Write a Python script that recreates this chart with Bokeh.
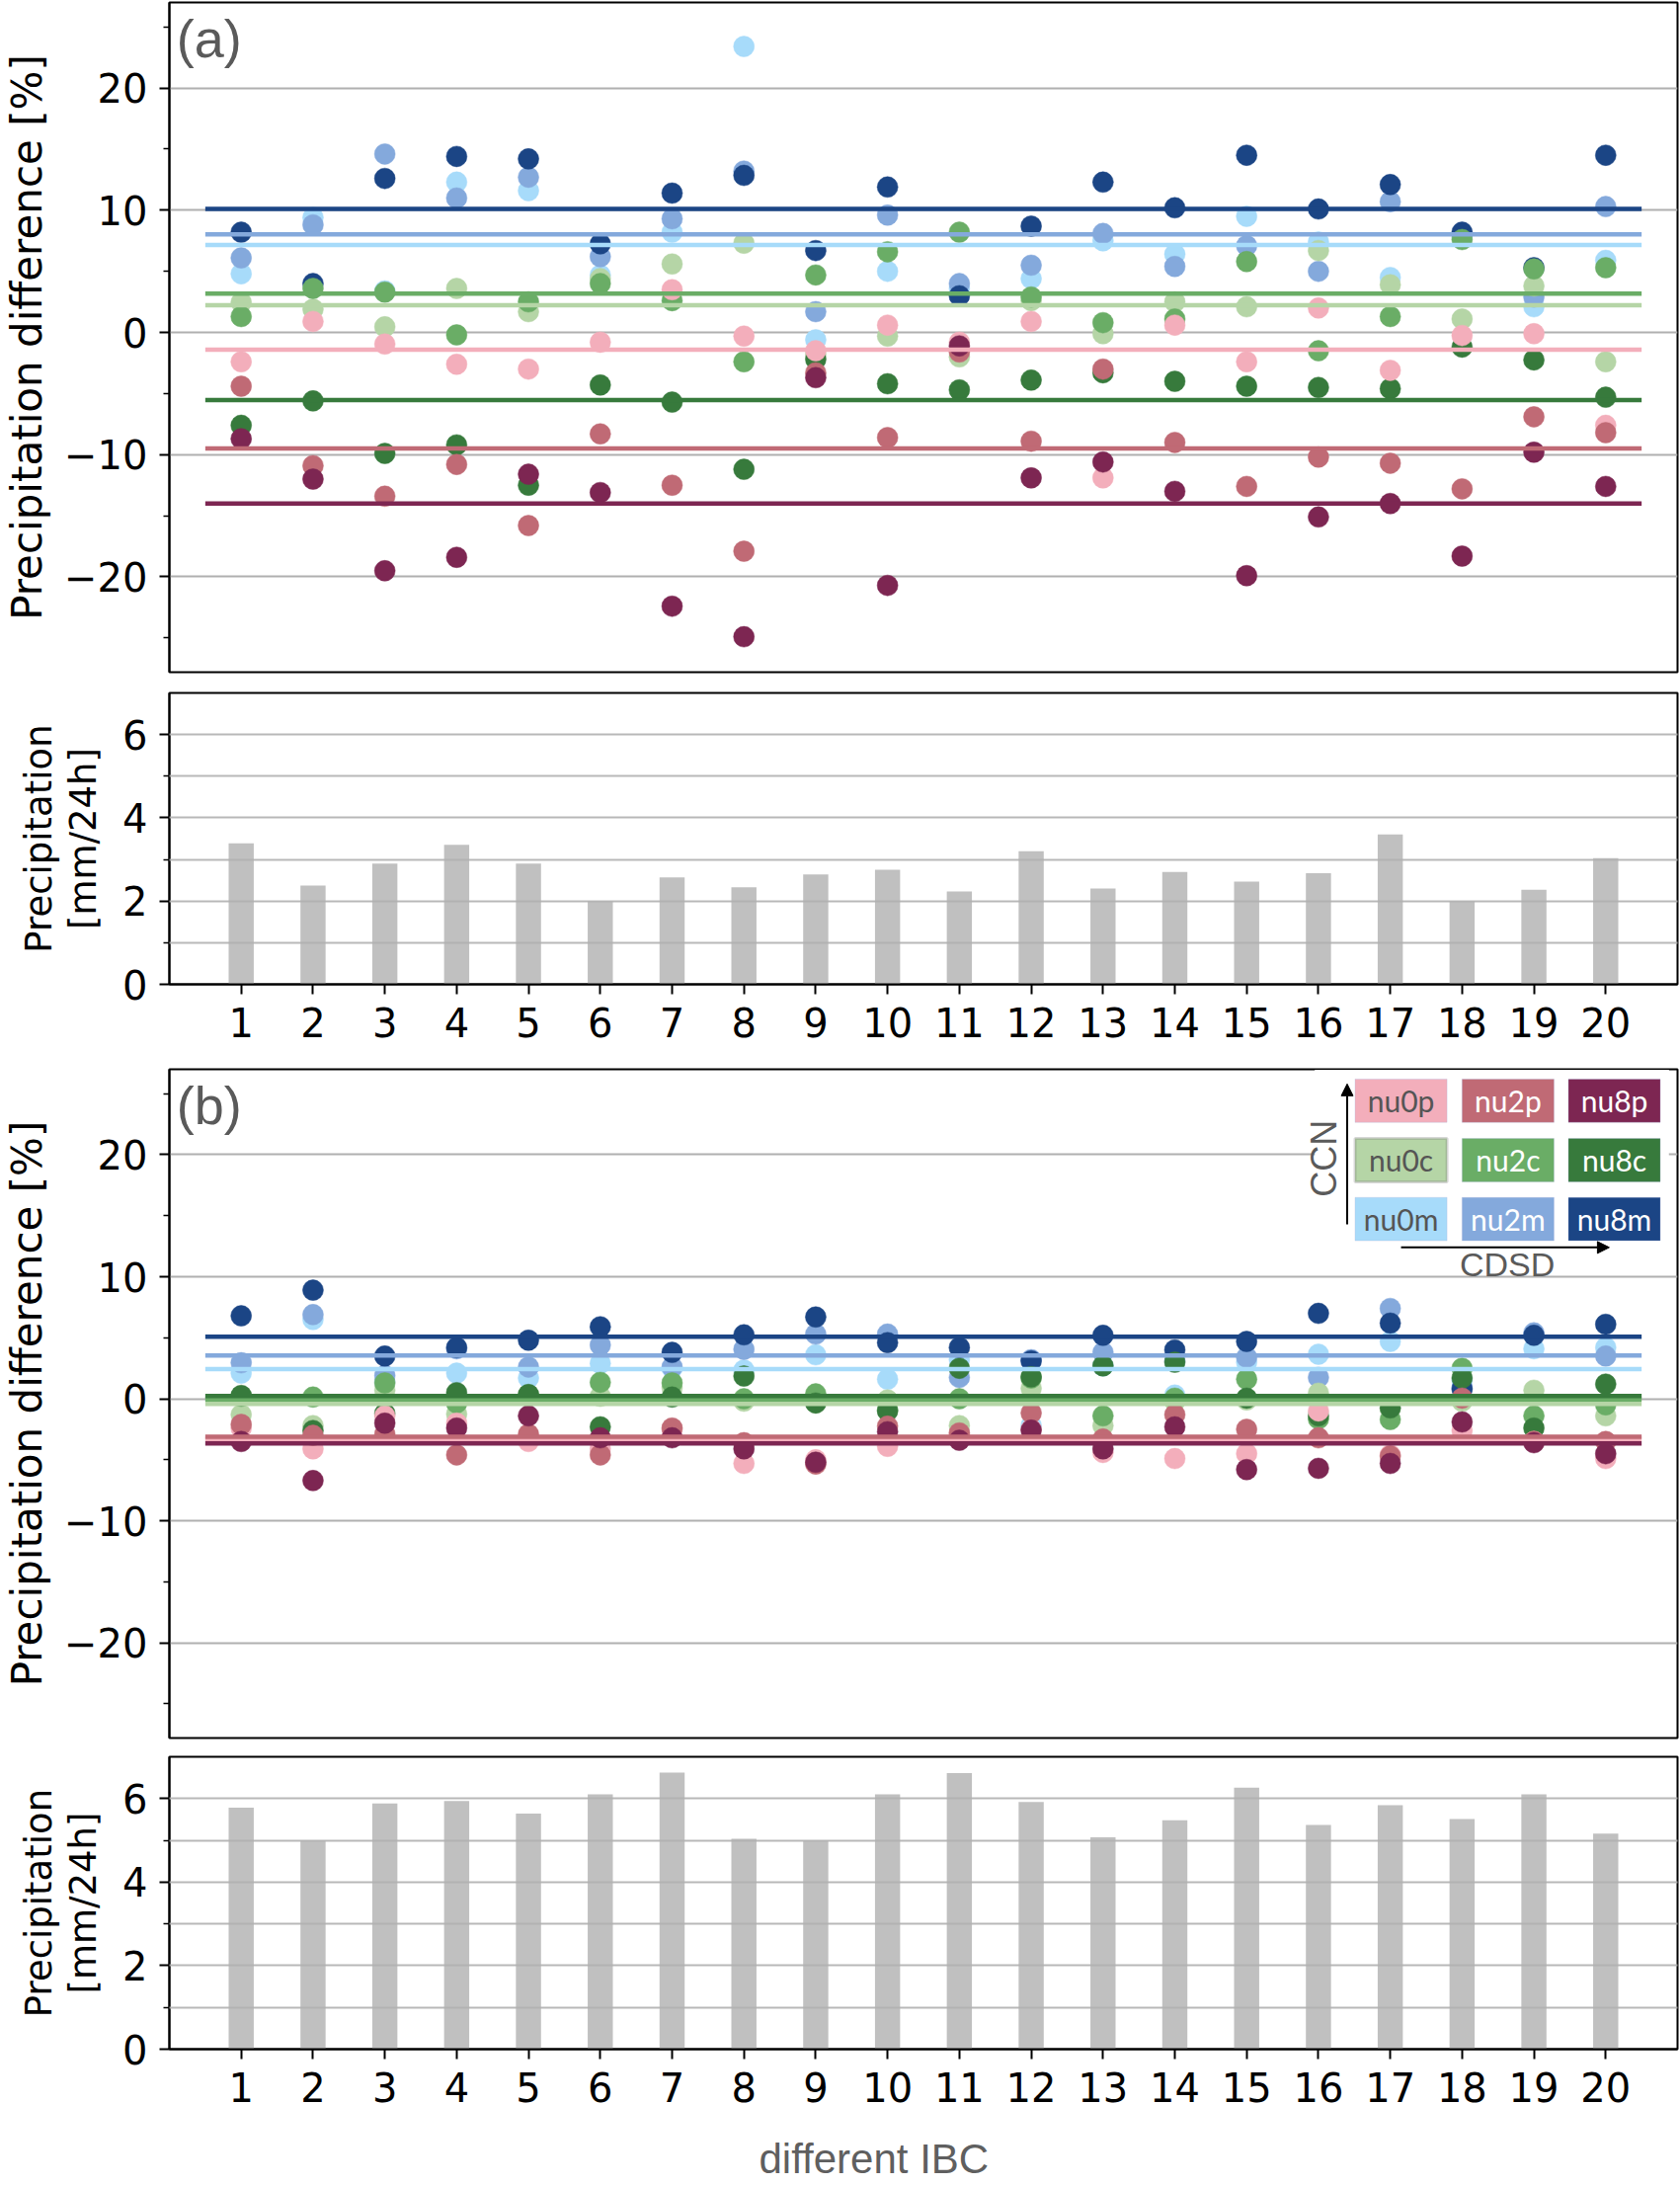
from bokeh.plotting import figure
from bokeh.layouts import column
from bokeh.models import FixedTicker, Label, Arrow, NormalHead, Range1d, BoxAnnotation
from bokeh.embed import file_html
from bokeh.resources import INLINE

# ---------------- data ----------------
ibc = list(range(1, 21))
ibc_labels = [str(i) for i in ibc]

# panel (a): precipitation difference [%]
a_nu0m = [4.8, 9.4, 3.4, 12.3, 11.6, 4.7, 8.2, 23.4, -0.6, 5.0, 3.6, 4.4, 7.5, 6.4, 9.5, 7.4, 4.5, 7.8, 2.1, 5.9]
a_nu2m = [6.1, 8.8, 14.6, 11.0, 12.7, 6.2, 9.3, 13.2, 1.7, 9.6, 4.0, 5.5, 8.1, 5.4, 7.1, 5.0, 10.7, 8.0, 2.9, 10.3]
a_nu8m = [8.2, 4.0, 12.6, 14.4, 14.2, 7.25, 11.4, 12.85, 6.7, 11.9, 3.0, 8.7, 12.3, 10.2, 14.5, 10.1, 12.1, 8.2, 5.3, 14.5]
a_nu0c = [2.46, 1.9, 0.46, 3.6, 1.7, 4.4, 5.6, 7.3, -1.8, -0.3, -2.0, 2.6, -0.1, 2.5, 2.1, 6.7, 3.9, 1.1, 3.8, -2.4]
a_nu2c = [1.3, 3.6, 3.3, -0.2, 2.5, 4.0, 2.6, -2.4, 4.7, 6.6, 8.2, 2.9, 0.8, 1.1, 5.8, -1.5, 1.3, 7.6, 5.2, 5.3]
a_nu8c = [-7.6, -5.6, -9.9, -9.2, -12.5, -4.3, -5.7, -11.2, -2.2, -4.2, -4.7, -3.9, -3.3, -4.0, -4.4, -4.5, -4.6, -1.2, -2.25, -5.3]
a_nu0p = [-2.4, 0.9, -0.95, -2.6, -3.0, -0.8, 3.5, -0.3, -1.5, 0.6, -0.8, 0.9, -11.9, 0.6, -2.4, 2.0, -3.1, -0.25, -0.1, -7.6]
a_nu2p = [-4.4, -10.9, -13.4, -10.8, -15.8, -8.3, -12.5, -17.9, -3.3, -8.6, -1.6, -8.9, -3.0, -9.0, -12.6, -10.2, -10.7, -12.8, -6.9, -8.2]
a_nu8p = [-8.7, -12.0, -19.5, -18.4, -11.6, -13.1, -22.4, -24.9, -3.7, -20.7, -1.1, -11.9, -10.6, -13.0, -19.9, -15.1, -14.0, -18.3, -9.8, -12.6]
a_means = [7.15, 8.03, 10.1, 2.22, 3.17, -5.53, -1.41, -9.5, -14.0]   # same order as names

# panel (b)
b_nu0m = [2.1, 6.5, 1.4, 2.1, 1.7, 2.9, 2.5, 2.35, 3.6, 1.6, 3.2, -2.2, 2.7, 0.3, 3.0, 3.65, 4.7, 1.5, 4.1, 4.2]
b_nu2m = [2.95, 6.9, 1.9, 4.1, 2.6, 4.4, 2.6, 4.05, 5.3, 5.3, 1.75, 3.2, 3.8, 3.1, 3.4, 1.75, 7.4, 0.9, 5.4, 3.5]
b_nu8m = [6.8, 8.9, 3.5, 4.2, 4.8, 5.9, 3.8, 5.24, 6.7, 4.6, 4.2, 3.1, 5.2, 4.0, 4.7, 7.0, 6.2, 0.8, 5.2, 6.1]
b_nu0c = [-1.3, -2.2, 0.7, -1.25, 0.2, 0.2, 0.9, -0.2, -0.3, -0.1, -2.2, 0.86, -2.2, -0.2, -0.1, 0.46, -0.8, -0.2, 0.7, -1.4]
b_nu2c = [0.2, 0.14, 1.3, -0.35, 0.3, 1.35, 1.3, 0.0, 0.4, -0.9, 0.0, 1.7, -1.4, 0.05, 1.6, -1.65, -1.7, 2.5, -1.4, -0.5]
b_nu8c = [0.27, -2.6, -1.2, 0.5, 0.35, -2.3, 0.14, 1.86, -0.35, -1.0, 2.5, 1.8, 2.7, 3.0, 0.05, -1.4, -0.75, 1.7, -2.4, 1.2]
b_nu0p = [-2.4, -4.1, -1.4, -2.0, -3.5, -4.1, -2.5, -5.3, -5.0, -3.9, -2.9, -2.5, -4.4, -4.9, -4.5, -1.0, -4.6, -2.6, -3.5, -4.9]
b_nu2p = [-2.1, -3.0, -2.9, -4.6, -2.9, -4.6, -2.4, -3.6, -5.35, -2.25, -2.8, -1.16, -3.3, -1.3, -2.5, -3.2, -4.7, 0.05, -3.5, -3.5]
b_nu8p = [-3.5, -6.7, -2.0, -2.4, -1.4, -3.2, -3.2, -4.1, -5.2, -2.7, -3.4, -2.57, -4.1, -2.3, -5.8, -5.7, -5.3, -1.9, -3.6, -4.5]
b_means = [2.43, 3.54, 5.08, -0.43, -0.05, 0.22, -3.3, -3.12, -3.65]

# precipitation [mm/24h]
bars_a = [3.39, 2.37, 2.90, 3.35, 2.90, 2.0, 2.57, 2.33, 2.64, 2.75, 2.23, 3.2, 2.3, 2.7, 2.47, 2.67, 3.6, 2.0, 2.27, 3.03]
bars_b = [5.78, 4.99, 5.88, 5.94, 5.64, 6.1, 6.62, 5.04, 4.99, 6.1, 6.61, 5.92, 5.07, 5.48, 6.26, 5.37, 5.84, 5.51, 6.1, 5.16]

names = ["nu0m", "nu2m", "nu8m", "nu0c", "nu2c", "nu8c", "nu0p", "nu2p", "nu8p"]
pct_ticks = [-20, -10, 0, 10, 20]
pct_minor = [-25, -15, -5, 5, 15, 25]
mm_ticks = [0, 2, 4, 6]
mm_minor = [1, 3, 5]

# ---------------- style ----------------
colors = {
    "nu0p": "#f3aebb", "nu2p": "#c06a75", "nu8p": "#7d2652",
    "nu0c": "#b5d5a6", "nu2c": "#6aad66", "nu8c": "#377a3c",
    "nu0m": "#a7dbfa", "nu2m": "#84a9dc", "nu8m": "#1b4585",
}
W = 1701
LB = 167
RB = 3
TICK_FONT = "DejaVu Sans"
GRID = "#b0b0b0"


def style_common(p):
    p.outline_line_color = "black"
    p.outline_line_width = 2
    p.outline_line_alpha = 1
    p.background_fill_color = "white"
    p.border_fill_color = "white"
    for ax in p.yaxis:
        ax.major_label_text_font = TICK_FONT
        ax.major_label_text_font_size = "40px"
        ax.major_label_text_color = "black"
        ax.major_tick_out = 10
        ax.major_tick_in = 0
        ax.minor_tick_out = 6
        ax.minor_tick_in = 0
        ax.axis_line_width = 2
        ax.major_tick_line_width = 2
        ax.minor_tick_line_width = 1.5
        ax.major_label_standoff = 12
        ax.axis_label_text_font = TICK_FONT
        ax.axis_label_text_font_style = "normal"
        ax.axis_label_text_color = "black"


def scatter_panel(series, means, tag, height, top, bottom):
    p = figure(width=W, height=height, x_range=Range1d(0, 21), y_range=Range1d(-27.8, 27.0),
               output_backend="svg", toolbar_location=None, x_axis_location=None,
               min_border_left=LB, min_border_right=RB, min_border_top=top, min_border_bottom=bottom)
    style_common(p)
    p.yaxis.ticker = FixedTicker(ticks=pct_ticks, minor_ticks=pct_minor)
    p.ygrid.ticker = FixedTicker(ticks=pct_ticks)
    p.yaxis.major_label_overrides = {-20: "\u221220", -10: "\u221210"}
    p.yaxis.axis_label = "Precipitation difference [%]"
    p.yaxis.axis_label_text_font_size = "42px"
    p.yaxis.axis_label_standoff = 10
    p.ygrid.grid_line_color = GRID
    p.ygrid.grid_line_width = 2
    for g in p.xgrid:
        g.grid_line_color = None
    for name, ys in zip(names, series):
        p.scatter(ibc, ys, size=21, fill_color=colors[name], line_color=colors[name], line_width=0.5)
    for name, m in zip(names, means):
        p.segment(x0=[ibc[0] - 0.5], y0=[m], x1=[ibc[-1] + 0.5], y1=[m],
                  line_color=colors[name], line_width=4.5)
    p.add_layout(Label(x=0.1, y=26.5, text=tag, text_baseline="top", text_align="left",
                       text_font="Liberation Sans", text_font_size="54px", text_color="#5a5a5a"))
    return p


def bar_panel(vals, height, top, bottom):
    p = figure(width=W, height=height, x_range=Range1d(0, 21), y_range=Range1d(0, 7),
               output_backend="svg", toolbar_location=None,
               min_border_left=LB, min_border_right=RB, min_border_top=top, min_border_bottom=bottom)
    style_common(p)
    p.vbar(x=ibc, top=vals, width=0.35, fill_color="#c0c0c0", line_color=None)
    p.yaxis.ticker = FixedTicker(ticks=mm_ticks, minor_ticks=mm_minor)
    p.ygrid.ticker = FixedTicker(ticks=mm_ticks, minor_ticks=mm_minor)
    p.ygrid.grid_line_color = GRID
    p.ygrid.grid_line_width = 2
    p.ygrid.minor_grid_line_color = GRID
    p.ygrid.minor_grid_line_width = 2
    p.ygrid.level = "annotation"
    p.ygrid.grid_line_alpha = 0.9
    p.ygrid.minor_grid_line_alpha = 0.9
    for g in p.xgrid:
        g.grid_line_color = None
    p.yaxis.axis_label = "Precipitation\n[mm/24h]"
    p.yaxis.axis_label_text_font_size = "37px"
    p.yaxis.axis_label_text_line_height = 1.05
    p.yaxis.axis_label_standoff = 15
    xa = p.xaxis[0]
    xa.ticker = FixedTicker(ticks=ibc, minor_ticks=[])
    xa.major_label_overrides = {i: s for i, s in zip(ibc, ibc_labels)}
    xa.major_label_text_font = TICK_FONT
    xa.major_label_text_font_size = "40px"
    xa.major_label_text_color = "black"
    xa.major_tick_out = 10
    xa.major_tick_in = 0
    xa.major_tick_line_width = 2
    xa.axis_line_width = 2
    xa.major_label_standoff = 13
    return p


pa = scatter_panel([a_nu0m, a_nu2m, a_nu8m, a_nu0c, a_nu2c, a_nu8c, a_nu0p, a_nu2p, a_nu8p],
                   a_means, "(a)", 700, 2, 20)
ba = bar_panel(bars_a, 378, 1, 82)
pb = scatter_panel([b_nu0m, b_nu2m, b_nu8m, b_nu0c, b_nu2c, b_nu8c, b_nu0p, b_nu2p, b_nu8p],
                   b_means, "(b)", 694, 4, 13)
bb = bar_panel(bars_b, 382, 6, 80)

# strip below the last panel holding the shared x label (same frame as the panels above)
xl = figure(width=W, height=57, x_range=Range1d(0, 21), y_range=Range1d(0, 1),
            output_backend="svg", toolbar_location=None, x_axis_location=None, y_axis_location=None,
            min_border_left=LB, min_border_right=RB, min_border_top=0, min_border_bottom=0)
xl.outline_line_color = None
xl.grid.visible = False
xl.add_layout(Label(x=9.81, y=0.46, text="different IBC", text_align="center", text_baseline="middle",
                    text_font="Liberation Sans", text_font_size="42px", text_color="#5f5f5f"))

# ---------------- legend (panel b) ----------------
pb.add_layout(BoxAnnotation(left=15.95, right=20.88, bottom=10.3, top=26.95,
                            fill_color="white", fill_alpha=1, line_color=None, level="annotation"))
col_left = [16.51, 18.0, 19.48]
row_top = [26.2, 21.33, 16.5]
box_w = 1.28
box_h = 3.55
grid_names = [["nu0p", "nu2p", "nu8p"], ["nu0c", "nu2c", "nu8c"], ["nu0m", "nu2m", "nu8m"]]
light = {"nu0p", "nu0c", "nu0m"}
for r, row in enumerate(grid_names):
    for c, nm in enumerate(row):
        l = col_left[c]
        t = row_top[r]
        lc = "#7a7a7a" if nm == "nu0c" else "#aab4dc"
        lw = 3 if nm == "nu0c" else 1
        pb.add_layout(BoxAnnotation(left=l, right=l + box_w, top=t, bottom=t - box_h,
                                    fill_color=colors[nm], fill_alpha=1, line_color=lc,
                                    line_width=lw, level="annotation"))
        pb.add_layout(Label(x=l + box_w / 2, y=t - box_h / 2, text=nm, text_align="center",
                            text_baseline="middle", text_font="Lato", text_font_size="30px",
                            text_color="#555555" if nm in light else "white"))

pb.add_layout(Arrow(end=NormalHead(size=12, fill_color="black", line_color="black"),
                    x_start=16.4, y_start=14.3, x_end=16.4, y_end=25.8,
                    line_color="black", line_width=2))
pb.add_layout(Arrow(end=NormalHead(size=12, fill_color="black", line_color="black"),
                    x_start=17.15, y_start=12.4, x_end=20.05, y_end=12.4,
                    line_color="black", line_width=2))
pb.add_layout(Label(x=16.08, y=19.7, text="CCN", angle=90, angle_units="deg", text_align="center",
                    text_baseline="middle", text_font="Liberation Sans", text_font_size="36px",
                    text_color="#5a5a5a"))
pb.add_layout(Label(x=18.63, y=11.0, text="CDSD", text_align="center", text_baseline="middle",
                    text_font="Liberation Sans", text_font_size="34px", text_color="#5a5a5a"))

layout = column(pa, ba, pb, bb, xl, spacing=0)
open("out.html", "w").write(file_html(layout, INLINE))
